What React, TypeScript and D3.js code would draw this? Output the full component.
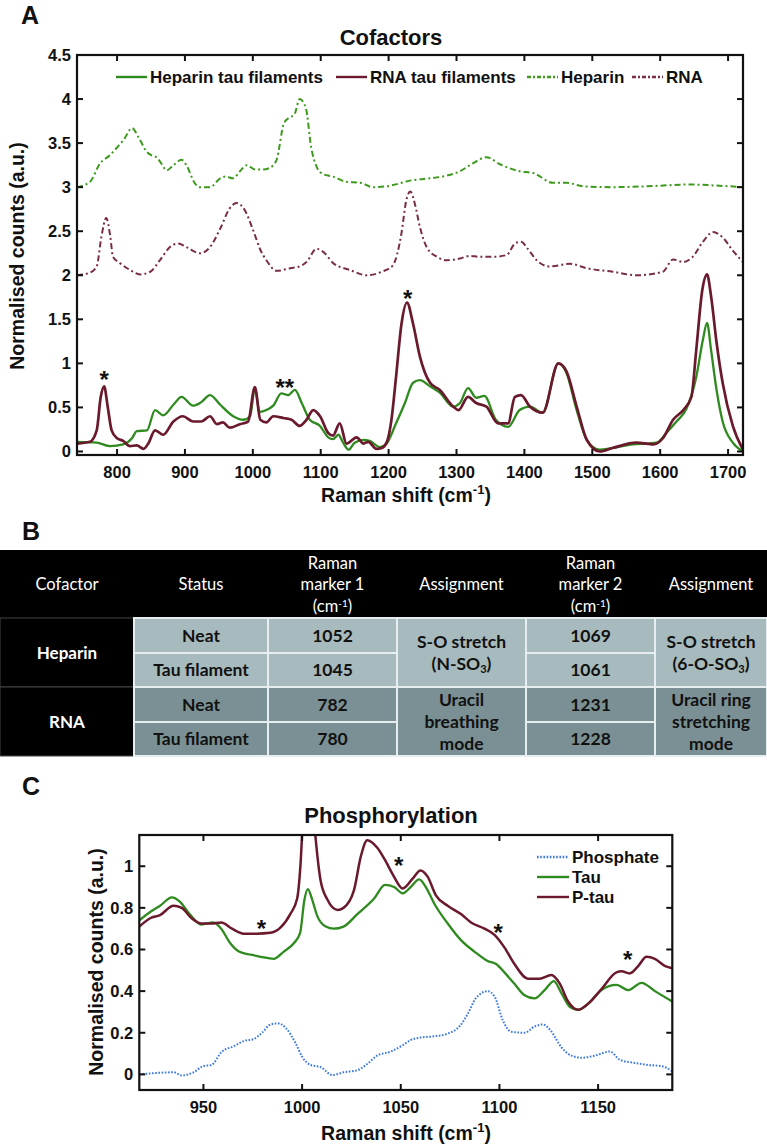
import React from "react";
import * as d3 from "d3";

// ---------- Panel A data (Raman shift cm-1, normalised counts, as plotted) ----------
const heparinShift = [741,760,775,789,800,810,822,832,844,851,858,866,873,883,895,902,915,922,937,952,960,971,981,991,1003,1015,1025,1035,1046,1054,1061,1069,1078,1086,1094,1103,1118,1138,1158,1177,1197,1236,1261,1285,1305,1324,1344,1364,1393,1413,1442,1462,1486,1530,1580,1644,1678,1722];
const heparinCounts = [3.0,3.06,3.27,3.36,3.45,3.54,3.67,3.56,3.40,3.36,3.34,3.26,3.19,3.25,3.31,3.25,3.04,3.0,3.0,3.1,3.12,3.1,3.18,3.25,3.2,3.2,3.22,3.31,3.73,3.79,3.82,4.0,3.9,3.45,3.23,3.15,3.12,3.06,3.05,3.0,3.01,3.08,3.1,3.13,3.18,3.27,3.34,3.26,3.18,3.16,3.05,3.05,3.01,3.0,3.01,3.03,3.02,3.0];

const rnaShift = [741,760,770,777,784,790,794,804,819,834,849,863,878,890,902,922,937,952,966,976,988,1001,1011,1020,1035,1055,1069,1079,1094,1106,1118,1143,1168,1190,1206,1219,1226,1232,1239,1246,1256,1271,1285,1305,1320,1334,1354,1374,1386,1395,1405,1418,1437,1467,1492,1530,1565,1604,1619,1634,1648,1663,1678,1692,1707,1722];
const rnaCounts = [2.0,2.03,2.10,2.44,2.65,2.44,2.21,2.14,2.06,2.01,2.04,2.17,2.32,2.36,2.32,2.25,2.32,2.53,2.76,2.82,2.74,2.5,2.29,2.17,2.05,2.08,2.1,2.15,2.30,2.25,2.14,2.06,2.0,2.04,2.11,2.48,2.85,2.95,2.8,2.55,2.32,2.21,2.17,2.19,2.22,2.21,2.21,2.23,2.36,2.38,2.30,2.17,2.10,2.13,2.08,2.04,2.0,2.04,2.18,2.15,2.21,2.38,2.49,2.43,2.28,2.15];

const hepFilShift = [741,770,790,809,822,829,844,856,868,883,895,912,924,937,952,971,986,996,1003,1010,1020,1030,1042,1052,1062,1072,1084,1099,1111,1118,1126,1133,1141,1150,1163,1172,1187,1196,1211,1224,1236,1246,1261,1275,1295,1305,1317,1329,1341,1358,1376,1393,1408,1427,1450,1462,1477,1492,1511,1530,1560,1580,1595,1609,1624,1639,1653,1663,1669,1675,1683,1692,1707,1722];
const hepFilCounts = [0.11,0.10,0.06,0.08,0.15,0.23,0.24,0.47,0.41,0.53,0.62,0.52,0.56,0.64,0.53,0.40,0.36,0.40,0.72,0.45,0.47,0.52,0.66,0.64,0.70,0.55,0.36,0.29,0.16,0.14,0.19,0.10,0.02,0.10,0.13,0.12,0.05,0.08,0.32,0.55,0.78,0.81,0.74,0.67,0.51,0.55,0.72,0.61,0.63,0.36,0.28,0.47,0.51,0.44,1.0,0.89,0.47,0.13,0.02,0.04,0.08,0.09,0.1,0.21,0.34,0.49,0.84,1.27,1.46,1.15,0.7,0.34,0.1,0.0];

const rnaFilShift = [741,760,770,776,781,786,792,800,809,819,829,839,846,856,868,883,897,912,924,937,947,956,966,981,993,1003,1011,1020,1030,1045,1057,1069,1079,1089,1099,1111,1118,1128,1138,1153,1163,1170,1182,1190,1197,1204,1211,1219,1227,1236,1246,1261,1275,1295,1303,1317,1329,1344,1361,1376,1386,1395,1408,1427,1450,1462,1477,1492,1511,1530,1565,1580,1590,1604,1619,1634,1646,1653,1662,1669,1675,1683,1692,1707,1722];
const rnaFilCounts = [0.09,0.11,0.24,0.62,0.74,0.52,0.24,0.15,0.12,0.06,0.07,0.03,0.09,0.24,0.19,0.34,0.40,0.34,0.34,0.40,0.31,0.33,0.27,0.31,0.34,0.73,0.36,0.33,0.40,0.38,0.36,0.29,0.36,0.47,0.40,0.21,0.18,0.32,0.09,0.16,0.09,0.11,0.03,0.04,0.1,0.35,0.85,1.45,1.69,1.45,1.08,0.78,0.70,0.51,0.47,0.62,0.55,0.51,0.32,0.32,0.62,0.64,0.51,0.44,1.0,0.91,0.51,0.13,0.0,0.04,0.1,0.09,0.08,0.15,0.36,0.47,0.62,1.14,1.83,2.01,1.76,1.24,0.78,0.29,0.02];

const xTicksA = [800,900,1000,1100,1200,1300,1400,1500,1600,1700];
const yTicksA = [0,0.5,1,1.5,2,2.5,3,3.5,4,4.5];
const legendA = ["Heparin tau filaments","RNA tau filaments","Heparin","RNA"];
const starsA = [{ x: 781, y: 0.88, t: "*" }, { x: 1047, y: 0.79, t: "**" }, { x: 1228, y: 1.8, t: "*" }];

// ---------- Panel B table ----------
const tableHeader = [["Cofactor"],["Status"],["Raman","marker 1","(cm|-1|)"],["Assignment"],["Raman","marker 2","(cm|-1|)"],["Assignment"]];
const cofactors = ["Heparin","RNA"];
const statuses = ["Neat","Tau filament"];
const marker1 = [["1052","1045"],["782","780"]];
const marker2 = [["1069","1061"],["1231","1228"]];
const assign1 = [["S-O stretch","(N-SO_3_)"],["Uracil","breathing","mode"]];
const assign2 = [["S-O stretch","(6-O-SO_3_)"],["Uracil ring","stretching","mode"]];

// ---------- Panel C data ----------
const tauShift = [917.5,923,928,934,938,943,949,955,959,963.6,968,974,979,985.6,990.7,995.8,999,1001.2,1002.9,1005.1,1007.7,1012,1016,1021,1028,1036.5,1042,1046.6,1051,1055,1059.3,1062.7,1067,1073.8,1080.5,1087.3,1094,1098.3,1102.5,1107.6,1112.7,1117.8,1122.9,1127.6,1131.4,1135.6,1139.9,1145,1151.7,1159.3,1165.3,1172,1178.8,1187.6];
const tauCounts = [0.74,0.78,0.81,0.85,0.83,0.77,0.72,0.73,0.70,0.63,0.59,0.575,0.565,0.555,0.59,0.63,0.68,0.84,0.89,0.84,0.76,0.71,0.70,0.71,0.77,0.845,0.91,0.90,0.87,0.90,0.937,0.90,0.82,0.725,0.645,0.59,0.545,0.53,0.49,0.435,0.38,0.365,0.405,0.448,0.39,0.325,0.31,0.34,0.405,0.43,0.405,0.44,0.40,0.35];

const pTauShift = [917.5,923,928,934.8,939,944,949,954,959,964.5,970.4,977,983.9,989,994,997.5,999.2,1001,1003,1005,1006.8,1009.4,1012.8,1017.9,1021,1026.3,1029.7,1033,1038,1042,1046,1051,1056,1060,1063.6,1067.8,1073.8,1080.5,1085.6,1092.4,1097.5,1102.5,1107.6,1114.4,1120.3,1126.3,1130.5,1134.8,1139.9,1145,1151.7,1159.3,1161.9,1166,1170.3,1174.5,1178.8,1184,1187.6];
const pTauCounts = [0.71,0.75,0.765,0.81,0.80,0.75,0.725,0.725,0.73,0.70,0.676,0.676,0.68,0.705,0.77,0.845,1.01,1.35,1.55,1.35,1.14,0.93,0.84,0.79,0.80,0.885,1.045,1.125,1.09,1.03,0.96,0.893,0.94,0.98,0.95,0.86,0.81,0.77,0.73,0.70,0.67,0.61,0.53,0.46,0.46,0.477,0.437,0.35,0.31,0.34,0.41,0.49,0.495,0.485,0.52,0.565,0.555,0.52,0.51];

const phosShift = [917.5,935,939,945,950,954,959.4,965.3,970.4,975.5,979.7,984,988,992,996.7,1000,1004.3,1009.4,1015.3,1021,1028,1033,1038,1045,1051,1055,1060,1067,1073.8,1079.7,1083.9,1088,1094,1097.5,1101.7,1106,1112.7,1117.8,1122,1126,1131.4,1136.5,1141.6,1148.3,1156,1161,1168.6,1175.4,1182,1187.6];
const phosCounts = [0.0,0.01,-0.005,0.01,0.04,0.045,0.11,0.135,0.16,0.17,0.2,0.24,0.245,0.22,0.15,0.085,0.045,0.035,-0.003,0.01,0.02,0.05,0.09,0.11,0.14,0.165,0.177,0.183,0.196,0.23,0.29,0.365,0.40,0.375,0.26,0.205,0.20,0.23,0.24,0.21,0.13,0.09,0.08,0.09,0.11,0.07,0.055,0.045,0.04,0.015];

const xTicksC = [950,1000,1050,1100,1150];
const yTicksC = [0,0.2,0.4,0.6,0.8,1];
const legendC = ["Phosphate","Tau","P-tau"];
const starsC = [{ x: 979.4, y: 0.73 }, { x: 1049, y: 1.03 }, { x: 1099.4, y: 0.71 }, { x: 1165, y: 0.58 }];

// ---------- styles ----------
const GREEN = "#2f8a1f";
const MAROON = "#6a1a2c";
const GREEN_DD = "#3d9a1c";
const MAROON_DD = "#7a2e45";
const BLUE = "#3a78e0";
const FONT = "Liberation Sans, Arial, sans-serif";
const TFONT = "Lato, Open Sans, sans-serif";
const STAR = 24;

type Series = { xs: number[]; ys: number[]; color: string; dash?: string; width: number };

function Axes({ x, y, xTicks, yTicks }: any) {
  const [x0, x1] = x.range();
  const [y0, y1] = y.range();
  const tl = 6;
  return (
    <g fontFamily={FONT} fontWeight="bold">
      <rect x={x0} y={y1} width={x1 - x0} height={y0 - y1} fill="none" stroke="#111" strokeWidth={2.2} />
      {xTicks.map((t: number) => (
        <g key={"x" + t}>
          <line x1={x(t)} x2={x(t)} y1={y0} y2={y0 - tl} stroke="#111" strokeWidth={2} />
          <line x1={x(t)} x2={x(t)} y1={y1} y2={y1 + tl} stroke="#111" strokeWidth={2} />
          <text x={x(t)} y={y0 + 23} textAnchor="middle" fontSize={16.5} fill="#111">{t}</text>
        </g>
      ))}
      {yTicks.map((t: number) => (
        <g key={"y" + t}>
          <line x1={x0} x2={x0 + tl} y1={y(t)} y2={y(t)} stroke="#111" strokeWidth={2} />
          <line x1={x1} x2={x1 - tl} y1={y(t)} y2={y(t)} stroke="#111" strokeWidth={2} />
          <text x={x0 - 6} y={y(t) + 6} textAnchor="end" fontSize={16.5} fill="#111">{String(t)}</text>
        </g>
      ))}
    </g>
  );
}

function Lines({ series, x, y, clipId }: any) {
  return (
    <g clipPath={`url(#${clipId})`}>
      {series.map((s: Series, i: number) => {
        const pts = s.xs.map((v, k) => [v, s.ys[k]] as [number, number]);
        const line = d3.line<[number, number]>().x(d => x(d[0])).y(d => y(d[1])).curve(d3.curveMonotoneX);
        return <path key={i} d={line(pts) || ""} fill="none" stroke={s.color} strokeWidth={s.width} strokeDasharray={s.dash} strokeLinejoin="round" />;
      })}
    </g>
  );
}

function XLabel({ cx, y }: { cx: number; y: number }) {
  return (
    <text x={cx} y={y} textAnchor="middle" fontFamily={FONT} fontWeight="bold" fontSize={19.5} fill="#111">
      Raman shift (cm<tspan dy={-8} fontSize={13}>-1</tspan><tspan dy={8}>)</tspan>
    </text>
  );
}

function renderRich(str: string) {
  // "|x|" superscript, "_x_" subscript; the text after one is shifted back to the baseline
  const parts: any[] = [];
  const re = /(\|[^|]+\||_[^_]+_)/g;
  let last = 0;
  let m: RegExpExecArray | null;
  let k = 0;
  let pending = 0;
  while ((m = re.exec(str))) {
    if (m.index > last) {
      parts.push(<tspan key={k++} dy={pending || undefined}>{str.slice(last, m.index)}</tspan>);
      pending = 0;
    }
    const inner = m[0].slice(1, -1);
    const shift = m[0][0] === "|" ? -5 : 3;
    parts.push(<tspan key={k++} dy={shift + pending} fontSize={m[0][0] === "|" ? 10 : 11}>{inner}</tspan>);
    pending = -shift;
    last = m.index + m[0].length;
  }
  if (last < str.length) parts.push(<tspan key={k++} dy={pending || undefined}>{str.slice(last)}</tspan>);
  return parts;
}

export default function App() {
  React.useEffect(() => {
    document.body.style.margin = "0";
  }, []);

  const xA = d3.scaleLinear().domain([741, 1722]).range([77, 743]);
  const yA = d3.scaleLinear().domain([-0.04, 4.5]).range([455, 55]);
  const seriesA: Series[] = [
    { xs: heparinShift, ys: heparinCounts, color: GREEN_DD, dash: "6,3,2,3", width: 2 },
    { xs: rnaShift, ys: rnaCounts, color: MAROON_DD, dash: "6,3,2,3", width: 2 },
    { xs: hepFilShift, ys: hepFilCounts, color: GREEN, width: 2.3 },
    { xs: rnaFilShift, ys: rnaFilCounts, color: MAROON, width: 2.7 },
  ];
  const legendAItems = [
    { x1: 116, x2: 147, color: GREEN, dash: undefined as string | undefined, label: legendA[0] },
    { x1: 336, x2: 367, color: MAROON, dash: undefined, label: legendA[1] },
    { x1: 527, x2: 558, color: GREEN_DD, dash: "4,2,2,2", label: legendA[2] },
    { x1: 632, x2: 663, color: MAROON_DD, dash: "4,2,2,2", label: legendA[3] },
  ];

  const xC = d3.scaleLinear().domain([917.5, 1187.6]).range([139.3, 672.3]);
  const yC = d3.scaleLinear().domain([-0.075, 1.15]).range([1090, 835]);
  const seriesC: Series[] = [
    { xs: phosShift, ys: phosCounts, color: BLUE, dash: "1.6,1.6", width: 2 },
    { xs: tauShift, ys: tauCounts, color: GREEN, width: 2.3 },
    { xs: pTauShift, ys: pTauCounts, color: MAROON, width: 2.5 },
  ];
  const legendCItems = [
    { y: 857, color: BLUE, dash: "1.6,1.6", label: legendC[0] },
    { y: 877, color: GREEN, dash: undefined as string | undefined, label: legendC[1] },
    { y: 897, color: MAROON, dash: undefined, label: legendC[2] },
  ];

  const colX = [0, 134, 268, 397, 526, 655, 767];
  const headTop = 550, headBot = 618;
  const rowY = [618, 653, 687, 722, 756];
  const groupFill = ["#a7babd", "#7a9094"];
  const cellStroke = "#e6eeef";

  return (
    <svg width={767} height={1146} style={{ display: "block", background: "#fff" }}>
      <defs>
        <clipPath id="clipA"><rect x={77} y={55} width={666} height={400} /></clipPath>
        <clipPath id="clipC"><rect x={139.3} y={835} width={533} height={255} /></clipPath>
      </defs>

      <g fontFamily={FONT} fontWeight="bold" fontSize={25} fill="#111">
        <text x={21} y={24}>A</text>
        <text x={22} y={540}>B</text>
        <text x={22} y={795}>C</text>
      </g>

      {/* ---------- Panel A ---------- */}
      <text x={391} y={45} textAnchor="middle" fontFamily={FONT} fontWeight="bold" fontSize={22} fill="#111">Cofactors</text>
      <Lines series={seriesA} x={xA} y={yA} clipId="clipA" />
      <Axes x={xA} y={yA} xTicks={xTicksA} yTicks={yTicksA} />
      <g fontFamily={FONT} fontWeight="bold" fontSize={17} fill="#111">
        {legendAItems.map((d, i) => (
          <g key={i}>
            <line x1={d.x1} x2={d.x2} y1={77} y2={77} stroke={d.color} strokeWidth={2.4} strokeDasharray={d.dash} />
            <text x={d.x2 + 3} y={83}>{d.label}</text>
          </g>
        ))}
      </g>
      <g fontFamily={FONT} fontWeight="bold" fontSize={STAR} fill="#111" textAnchor="middle">
        {starsA.map((s, i) => (
          <text key={i} x={xA(s.x)} y={yA(s.y) + STAR * 0.6}>{s.t}</text>
        ))}
      </g>
      <XLabel cx={406} y={502} />
      <text transform="translate(24,256) rotate(-90)" textAnchor="middle" fontFamily={FONT} fontWeight="bold" fontSize={19.5} fill="#111">Normalised counts (a.u.)</text>

      {/* ---------- Panel B table ---------- */}
      <g fontFamily={TFONT}>
        <rect x={0} y={headTop} width={767} height={headBot - headTop} fill="#000" />
        {tableHeader.map((lines, c) => {
          const cx = (colX[c] + colX[c + 1]) / 2;
          const lh = 21.5;
          const start = (headTop + headBot) / 2 - ((lines.length - 1) * lh) / 2 + 6;
          return (
            <text key={c} x={cx} textAnchor="middle" fontSize={16.5} fill="#fff">
              {lines.map((ln, j) => (
                <tspan key={j} x={cx} y={start + j * lh}>{renderRich(ln)}</tspan>
              ))}
            </text>
          );
        })}
        {cofactors.map((cof, g) => {
          const top = rowY[g * 2], bot = rowY[g * 2 + 2];
          const cyG = (top + bot) / 2;
          return (
            <g key={cof}>
              <rect x={colX[0]} y={top} width={colX[1]} height={bot - top} fill="#000" stroke="#444" strokeWidth={1} />
              <text x={(colX[0] + colX[1]) / 2} y={cyG + 6} textAnchor="middle" fontSize={17} fill="#fff" fontWeight="bold">{cof}</text>
              {statuses.map((st, r) => {
                const rt = rowY[g * 2 + r], rb = rowY[g * 2 + r + 1];
                const cy = (rt + rb) / 2 + 6;
                return (
                  <g key={st}>
                    <rect x={colX[1]} y={rt} width={colX[2] - colX[1]} height={rb - rt} fill={groupFill[g]} stroke={cellStroke} strokeWidth={2} />
                    <rect x={colX[2]} y={rt} width={colX[3] - colX[2]} height={rb - rt} fill={groupFill[g]} stroke={cellStroke} strokeWidth={2} />
                    <rect x={colX[4]} y={rt} width={colX[5] - colX[4]} height={rb - rt} fill={groupFill[g]} stroke={cellStroke} strokeWidth={2} />
                    <text x={(colX[1] + colX[2]) / 2} y={cy} textAnchor="middle" fontSize={17.5} fontWeight="bold" fill="#111">{st}</text>
                    <text x={(colX[2] + colX[3]) / 2} y={cy} textAnchor="middle" fontSize={17.5} fontWeight="bold" fill="#111">{marker1[g][r]}</text>
                    <text x={(colX[4] + colX[5]) / 2} y={cy} textAnchor="middle" fontSize={17.5} fontWeight="bold" fill="#111">{marker2[g][r]}</text>
                  </g>
                );
              })}
              {[{ c: 3, lines: assign1[g] }, { c: 5, lines: assign2[g] }].map(({ c, lines }) => {
                const cx = (colX[c] + colX[c + 1]) / 2;
                const lh = 22;
                const start = cyG - ((lines.length - 1) * lh) / 2 + 6;
                return (
                  <g key={c}>
                    <rect x={colX[c]} y={top} width={colX[c + 1] - colX[c]} height={bot - top} fill={groupFill[g]} stroke={cellStroke} strokeWidth={2} />
                    <text x={cx} textAnchor="middle" fontSize={17.5} fontWeight="bold" fill="#111">
                      {lines.map((ln, j) => (
                        <tspan key={j} x={cx} y={start + j * lh}>{renderRich(ln)}</tspan>
                      ))}
                    </text>
                  </g>
                );
              })}
            </g>
          );
        })}
      </g>

      {/* ---------- Panel C ---------- */}
      <text x={391} y={823} textAnchor="middle" fontFamily={FONT} fontWeight="bold" fontSize={22} fill="#111">Phosphorylation</text>
      <Lines series={seriesC} x={xC} y={yC} clipId="clipC" />
      <Axes x={xC} y={yC} xTicks={xTicksC} yTicks={yTicksC} />
      <g fontFamily={FONT} fontWeight="bold" fontSize={17} fill="#111">
        {legendCItems.map((d, i) => (
          <g key={i}>
            <line x1={537} x2={569} y1={d.y} y2={d.y} stroke={d.color} strokeWidth={2.4} strokeDasharray={d.dash} />
            <text x={572} y={d.y + 6}>{d.label}</text>
          </g>
        ))}
      </g>
      <g fontFamily={FONT} fontWeight="bold" fontSize={STAR} fill="#111" textAnchor="middle">
        {starsC.map((s, i) => (
          <text key={i} x={xC(s.x)} y={yC(s.y) + STAR * 0.6}>*</text>
        ))}
      </g>
      <XLabel cx={406} y={1140} />
      <text transform="translate(103,962) rotate(-90)" textAnchor="middle" fontFamily={FONT} fontWeight="bold" fontSize={19.5} fill="#111">Normalised counts (a.u.)</text>
    </svg>
  );
}
